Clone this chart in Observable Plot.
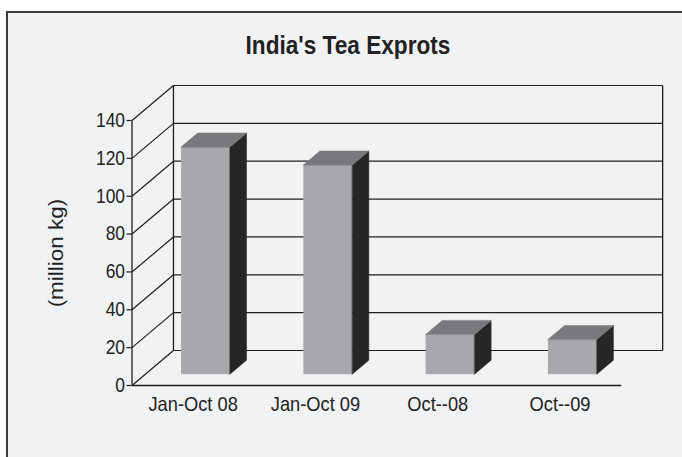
<!DOCTYPE html>
<html><head><meta charset="utf-8">
<script src="https://cdn.jsdelivr.net/npm/d3@7"></script>
<script src="https://cdn.jsdelivr.net/npm/@observablehq/plot@0.6"></script>
<style>
html,body{margin:0;padding:0;background:#fff;}
#wrap{position:relative;width:682px;height:457px;overflow:hidden;}
#frame{position:absolute;left:6px;top:11px;width:700px;height:500px;border:2px solid #3a3a3a;background:#f1f2f4;}
#title{position:absolute;left:0;top:30px;width:696px;text-align:center;font:bold 26px "Liberation Sans",Arial,sans-serif;color:#222;line-height:30px;transform:scaleX(0.87);transform-origin:348px 50%;}
#chart{position:absolute;left:0;top:0;}
</style></head><body>
<div id="wrap"><div id="frame"></div><div id="title">India's Tea Exprots</div><div id="chart"></div></div>
<script>
const categories = ["Jan-Oct 08", "Jan-Oct 09", "Oct--08", "Oct--09"];
const values = [120, 110.5, 21, 18.3];
const yTicks = [0, 20, 40, 60, 80, 100, 120, 140];
const yLabel = "(million kg)";

// 3D projection constants (in data units)
const DX = 0.339, DY = 18.49;
const f0 = 0.31, f1 = 0.71, bw = 0.4;
const n = categories.length;
const yMax = 140;
const font = '"Liberation Sans",Arial,sans-serif';
const lineColor = "#1e1e1e";

const bars = categories.map((c, i) => {
  const v = values[i];
  const x0 = i + 0.5 - bw / 2 + f0 * DX;
  const b = f0 * DY;
  return {i, c, v, x0, x1: x0 + bw, b, t: v + b, ddx: (f1 - f0) * DX, ddy: (f1 - f0) * DY};
});
const sidePts = bars.flatMap(d => [
  {i: d.i, x: d.x1, y1: d.b, y2: d.t},
  {i: d.i, x: d.x1 + d.ddx, y1: d.b + d.ddy, y2: d.t + d.ddy}
]);
const topPts = bars.flatMap(d => [
  {i: d.i, y: d.t, x1: d.x0, x2: d.x1},
  {i: d.i, y: d.t + d.ddy, x1: d.x0 + d.ddx, x2: d.x1 + d.ddx}
]);

const backGrid = yTicks.map(t => ({x1: DX, x2: n + DX, y: t + DY}));
const sideGrid = yTicks.map(t => ({x1: 0, y1: t, x2: DX, y2: t + DY}));
const edges = [
  {x1: DX, y1: DY, x2: DX, y2: yMax + DY},
  {x1: n + DX, y1: DY, x2: n + DX, y2: yMax + DY},
  {x1: 0, y1: 0, x2: n, y2: 0},
  {x1: 0, y1: 0, x2: 0, y2: yMax}
];

const chart = Plot.plot({
  width: 682,
  height: 457,
  marginLeft: 131.5,
  marginRight: 61.3,
  marginTop: 120,
  marginBottom: 72,
  style: {background: "transparent", color: "#222", fontFamily: font},
  x: {domain: [0, n], axis: null},
  y: {domain: [0, yMax]},
  marks: [
    Plot.link(backGrid, {x1: "x1", x2: "x2", y1: "y", y2: "y", stroke: lineColor, strokeWidth: 1.2}),
    Plot.link(sideGrid, {x1: "x1", x2: "x2", y1: "y1", y2: "y2", stroke: lineColor, strokeWidth: 1.2}),
    Plot.link(edges, {x1: "x1", x2: "x2", y1: "y1", y2: "y2", stroke: lineColor, strokeWidth: 1.3}),
    Plot.axisY({ticks: yTicks, tickSize: 5, tickPadding: 2, fontSize: 20, label: null, stroke: lineColor, strokeWidth: 1.2}),
    Plot.text([yLabel], {frameAnchor: "left", textAnchor: "middle", dx: -75, rotate: -90, fontSize: 22.5, fill: "#222"}),
    Plot.text(bars, {x: d => d.i + 0.5, y: 0, text: "c", dy: 19, fontSize: 21, fill: "#222"}),
    Plot.rect(bars, {x1: "x0", x2: "x1", y1: "b", y2: "t", fill: "#a7a8ab"}),
    Plot.areaY(sidePts, {x: "x", y1: "y1", y2: "y2", z: "i", fill: "#262627", stroke: "#262627", strokeWidth: 0.5}),
    Plot.areaX(topPts, {y: "y", x1: "x1", x2: "x2", z: "i", fill: "#78797c", stroke: "#78797c", strokeWidth: 0.5})
  ]
});

// the reference's lettering is horizontally condensed: squeeze text around its anchor
chart.querySelectorAll("text").forEach(el => {
  const t = el.getAttribute("transform") || "";
  const xa = el.getAttribute("x");
  const x = xa && !/[a-z%]/i.test(xa) ? parseFloat(xa) : 0;
  if (t.includes("rotate")) {
    el.setAttribute("transform", `${t} scale(1,0.87)`);
  } else {
    el.setAttribute("transform", `${t} translate(${x},0) scale(0.87,1) translate(${-x},0)`);
  }
});
document.getElementById("chart").appendChild(chart);
</script>
</body></html>
